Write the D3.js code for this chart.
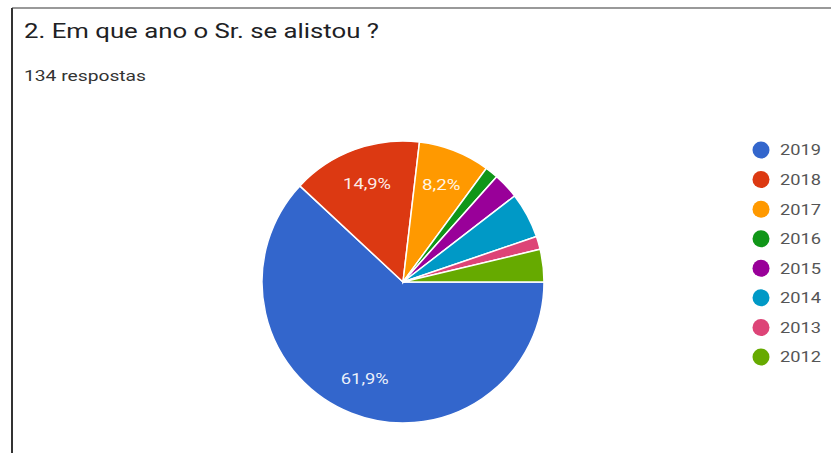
<!DOCTYPE html>
<html><head><meta charset="utf-8">
<script src="https://cdn.jsdelivr.net/npm/d3@7"></script>
<style>body{margin:0;background:#fff;}svg{display:block;font-family:Roboto,Arial,sans-serif;}</style>
</head><body>
<svg id="c" width="831" height="453"></svg>
<script>
const categories = ["2019","2018","2017","2016","2015","2014","2013","2012"];
const counts = [83, 20, 11, 2, 4, 7, 2, 5];
const colors = ["#3366cc","#dc3912","#ff9900","#109618","#990099","#0099c6","#dd4477","#66aa00"];
const labels = ["61,9%","14,9%","8,2%",null,null,null,null,null];
const title = "2. Em que ano o Sr. se alistou ?";
const subtitle = "134 respostas";

const svg = d3.select("#c");
// frame
svg.append("line").attr("x1",12).attr("y1",8).attr("x2",831).attr("y2",8).attr("stroke","#777").attr("stroke-width",1.5);
svg.append("line").attr("x1",12).attr("y1",8).attr("x2",12).attr("y2",453).attr("stroke","#333").attr("stroke-width",2);

svg.append("text").attr("x",24).attr("y",38).attr("font-size",21).attr("fill","#202124")
  .attr("textLength",355).attr("lengthAdjust","spacingAndGlyphs").text(title);
svg.append("text").attr("x",24).attr("y",81).attr("font-size",15).attr("fill","#333")
  .attr("textLength",122).attr("lengthAdjust","spacingAndGlyphs").text(subtitle);

const cx = 403, cy = 282, r = 141;
const data = categories.map((c,i)=>({cat:c, v:counts[i], color:colors[i], label:labels[i]}));
const pie = d3.pie().value(d=>d.v).sort(null).startAngle(Math.PI/2).endAngle(Math.PI/2 + 2*Math.PI);
const arcs = pie(data);
const arc = d3.arc().innerRadius(0).outerRadius(r);
const labelArc = d3.arc().innerRadius(r*0.74).outerRadius(r*0.74);
const g = svg.append("g").attr("transform",`translate(${cx},${cy})`);
g.selectAll("path").data(arcs).join("path")
  .attr("d",arc).attr("fill",d=>d.data.color).attr("stroke","#fff").attr("stroke-width",1.5);
g.selectAll("text").data(arcs.filter(d=>d.data.label)).join("text")
  .attr("x",d=>labelArc.centroid(d)[0] - (d.data.label.length*9.6)/2)
  .attr("y",d=>labelArc.centroid(d)[1])
  .attr("dy","0.35em").attr("font-size",15).attr("fill","#fff").attr("fill-opacity",0.92)
  .attr("textLength",d=>d.data.label.length*9.6).attr("lengthAdjust","spacingAndGlyphs")
  .text(d=>d.data.label);

const y = d3.scalePoint().domain(categories).range([150, 357]);
const lg = svg.append("g");
lg.selectAll("circle").data(data).join("circle")
  .attr("cx",761).attr("cy",d=>y(d.cat)).attr("r",8.5).attr("fill",d=>d.color);
lg.selectAll("text").data(data).join("text")
  .attr("x",780).attr("y",d=>y(d.cat)).attr("dy","0.36em").attr("font-size",15).attr("fill","#555")
  .attr("textLength",41).attr("lengthAdjust","spacingAndGlyphs")
  .text(d=>d.cat);
</script>
</body></html>
